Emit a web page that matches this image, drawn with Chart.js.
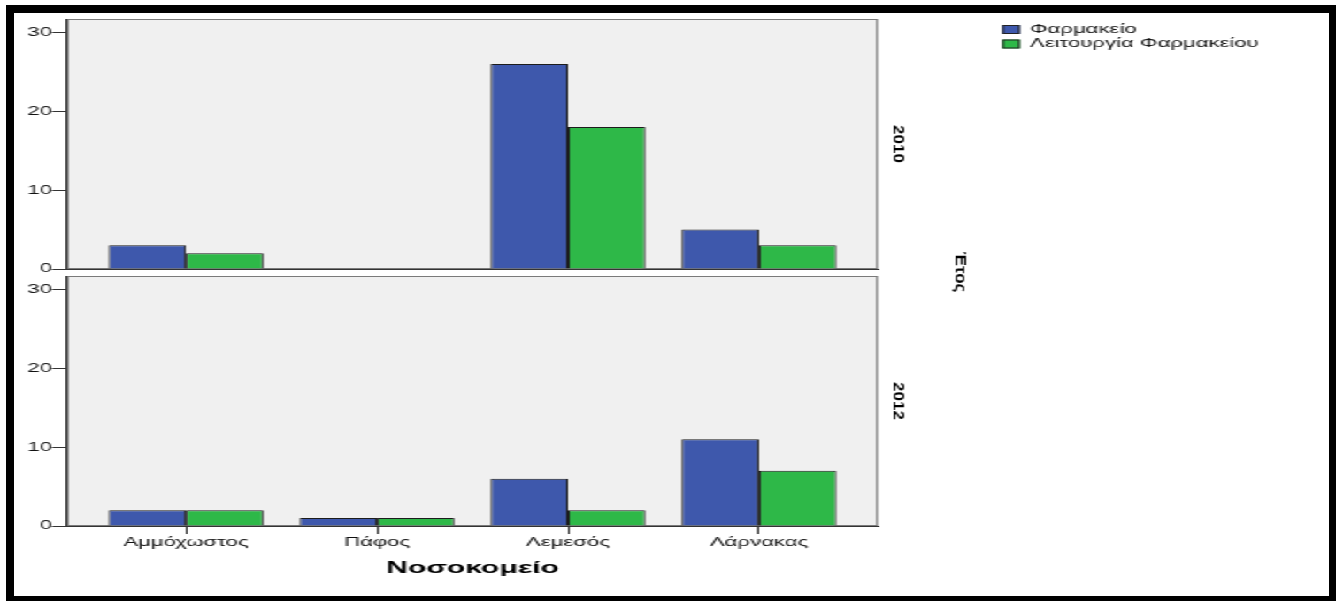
<!DOCTYPE html>
<html>
<head>
<meta charset="utf-8">
<script src="https://cdn.jsdelivr.net/npm/chart.js@4.4.1/dist/chart.umd.min.js"></script>
<style>
  html, body { margin: 0; padding: 0; background: #fff; }
  body { width: 1336px; height: 601px; position: relative; overflow: hidden; }
  /* the source picture is stretched sideways, so draw narrow and stretch */
  #stretch { position: absolute; left: 0; top: 0; width: 755px; height: 601px;
             transform: scaleX(1.7695); transform-origin: 0 0; }
  .panel { position: absolute; left: 0; top: 0; width: 755px; height: 601px; }
  #frame { position: absolute; left: 6px; top: 5px; right: 0; bottom: 0;
           border-style: solid; border-color: #000; border-width: 8px 7px 5px 8px;
           pointer-events: none; }
</style>
</head>
<body>
<div id="stretch">
  <div class="panel"><canvas id="chart2010"></canvas></div>
  <div class="panel"><canvas id="chart2012"></canvas></div>
</div>
<div id="frame"></div>
<script>
// values
const categories = ['Αμμόχωστος', 'Πάφος', 'Λεμεσός', 'Λάρνακας'];
const seriesNames = ['Φαρμακείο', 'Λειτουργία Φαρμακείου'];
const years = ['2010', '2012'];
const pharmacy2010 = [3, 0, 26, 5];
const operation2010 = [2, 0, 18, 3];
const pharmacy2012 = [2, 1, 6, 11];
const operation2012 = [2, 1, 2, 7];
const yTicks = [0, 10, 20, 30];
const yMax = 31.7;
const xTitle = 'Νοσοκομείο';
const yearTitle = 'Έτος';

const STRETCH = 1.7695;
const COLORS = ['#3E58AC', '#2EB848'];
const FONT = '"Liberation Sans", Arial, sans-serif';

Chart.defaults.font.family = FONT;
Chart.defaults.color = '#111';

// grey panel behind the bars
const panelBox = {
  id: 'panelBox',
  beforeDraw(chart) {
    const { ctx, chartArea: a } = chart;
    ctx.save();
    ctx.fillStyle = '#F0F0F0';
    ctx.fillRect(a.left, a.top, a.right - a.left, a.bottom - a.top);
    ctx.strokeStyle = '#7a7a7a';
    ctx.lineWidth = 1;
    ctx.strokeRect(a.left + 0.5, a.top + 0.5, a.right - a.left - 1, a.bottom - a.top - 1);
    ctx.restore();
  }
};

// year labels on the right, turned clockwise (drawn un-stretched)
const sideLabels = {
  id: 'sideLabels',
  afterDraw(chart, args, opts) {
    const { ctx, chartArea: a } = chart;
    const upright = (text, x, y, font) => {
      ctx.save();
      ctx.translate(x, y);
      ctx.scale(1 / STRETCH, 1);
      ctx.rotate(Math.PI / 2);
      ctx.font = font;
      ctx.fillStyle = '#000';
      ctx.textAlign = 'center';
      ctx.textBaseline = 'middle';
      ctx.fillText(text, 0, 0);
      ctx.restore();
    };
    upright(opts.year, a.right + 11.9, (a.top + a.bottom) / 2, 'bold 17px ' + FONT);
    if (opts.title) upright(opts.title, a.right + 46.5, opts.titleY, 'bold 17px ' + FONT);
  }
};

// legend in the top right corner
const sideLegend = {
  id: 'sideLegend',
  afterDraw(chart, args, opts) {
    if (!opts.show) return;
    const { ctx } = chart;
    ctx.save();
    ctx.font = '12.5px ' + FONT;
    ctx.textBaseline = 'middle';
    chart.data.datasets.forEach((ds, i) => {
      const y = opts.y + i * opts.rowHeight;
      ctx.fillStyle = ds.backgroundColor;
      ctx.fillRect(opts.x, y - 4.5, 10, 9);
      ctx.strokeStyle = '#222';
      ctx.lineWidth = 1;
      ctx.strokeRect(opts.x + 0.5, y - 4, 9, 8);
      ctx.fillStyle = '#111';
      ctx.fillText(ds.label, opts.x + 15.7, y);
    });
    ctx.restore();
  }
};

function makeChart(id, year, blue, green, cfg) {
  const toPoints = arr => arr.map((v, i) => ({ x: i, y: v }));
  return new Chart(document.getElementById(id), {
    type: 'bar',
    data: {
      datasets: [
        { label: seriesNames[0], data: toPoints(blue), backgroundColor: COLORS[0], borderColor: '#1c1c1c', borderWidth: 1 },
        { label: seriesNames[1], data: toPoints(green), backgroundColor: COLORS[1], borderColor: '#1c1c1c', borderWidth: 1 }
      ]
    },
    options: {
      responsive: true,
      maintainAspectRatio: false,
      animation: false,
      categoryPercentage: 0.81,
      barPercentage: 1,
      layout: { padding: cfg.padding },
      scales: {
        x: {
          type: 'linear',
          min: -0.623,
          max: 3.623,
          offset: false,
          afterBuildTicks: s => { s.ticks = categories.map((c, i) => ({ value: i })); },
          afterFit: s => { s.height = cfg.xHeight; },
          grid: { display: cfg.showX, offset: false, drawOnChartArea: false, tickLength: 8, color: '#333' },
          border: { display: true, color: '#333', width: 1 },
          ticks: {
            display: cfg.showX, autoSkip: false, maxRotation: 0, padding: 1,
            font: { size: 12.5 }, color: '#111',
            callback: v => categories[v]
          },
          title: { display: cfg.showX, text: xTitle, font: { size: 17, weight: 'bold' }, color: '#000', padding: 0 }
        },
        y: {
          min: 0,
          max: yMax,
          afterBuildTicks: s => { s.ticks = yTicks.map(v => ({ value: v })); },
          afterFit: s => { s.width = 30; },
          grid: { drawOnChartArea: false, tickLength: 8.5, color: '#333' },
          border: { color: '#333', width: 1 },
          ticks: { padding: 0, font: { size: 12.5 }, color: '#111' }
        }
      },
      plugins: {
        legend: { display: false },
        tooltip: { enabled: false },
        sideLabels: { year: year, title: cfg.title, titleY: 272 },
        sideLegend: { show: cfg.legend, x: 566.4, y: 29.5, rowHeight: 14.5 }
      }
    },
    plugins: [panelBox, sideLabels, sideLegend]
  });
}

makeChart('chart2010', years[0], pharmacy2010, operation2010, {
  padding: { left: 7.86, top: 19, right: 258.8, bottom: 332 },
  xHeight: 0, showX: false, legend: true, title: null
});

makeChart('chart2012', years[1], pharmacy2012, operation2012, {
  padding: { left: 7.86, top: 276, right: 258.8, bottom: 22 },
  xHeight: 53, showX: true, legend: false, title: yearTitle
});
</script>
</body>
</html>
